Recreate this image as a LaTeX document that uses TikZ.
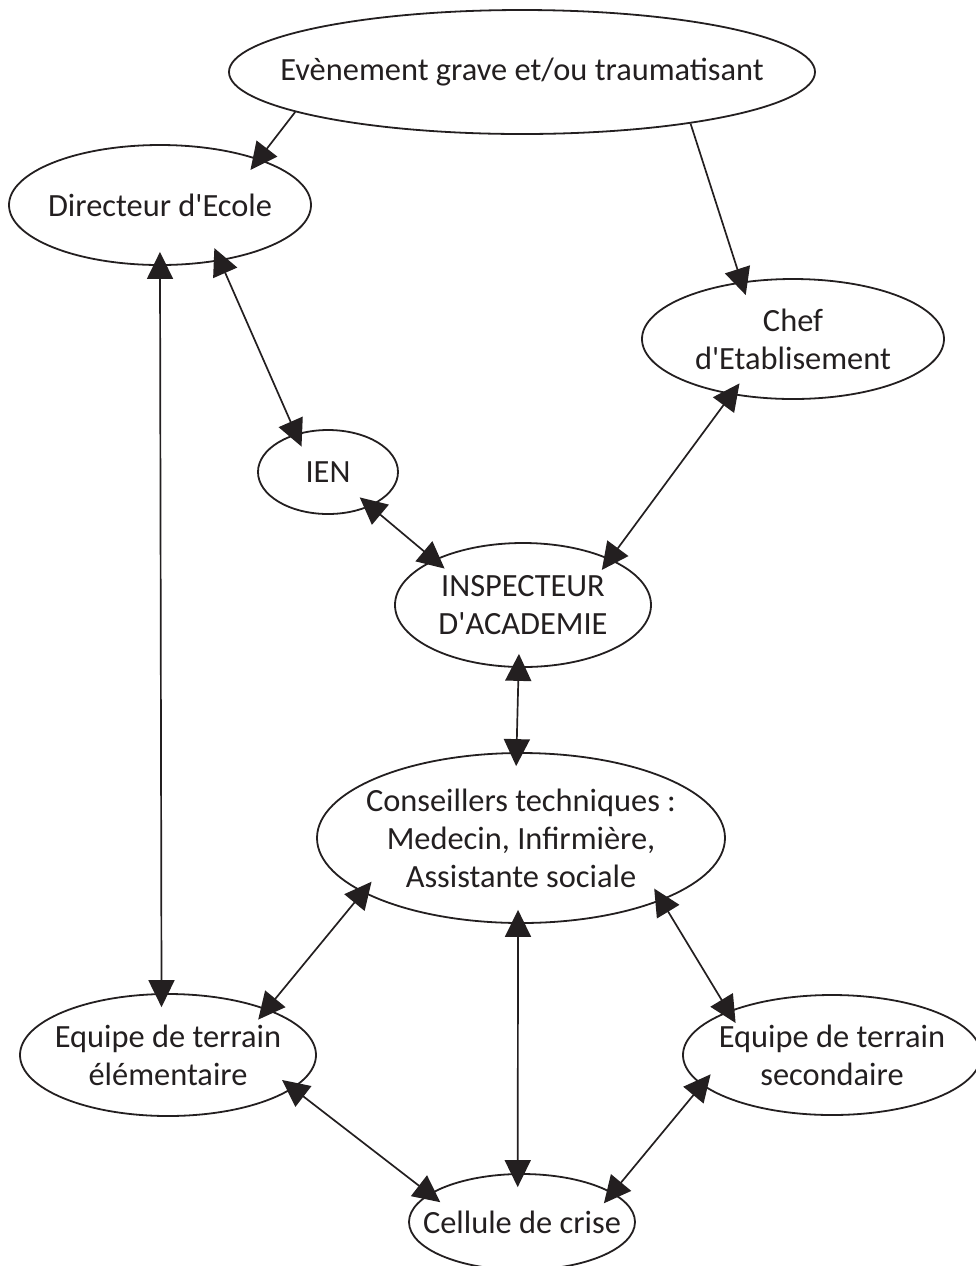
\documentclass[tikz,border=0pt]{standalone}
\usepackage{fontspec}
\setmainfont{Carlito}[Ligatures=TeXOff]
\usepackage{tikz}
\usepackage{xcolor}
\usetikzlibrary{shapes,arrows.meta,positioning,calc}

\definecolor{encre}{HTML}{231F20}

\begin{document}
\begin{tikzpicture}[x=0.5pt, y=-0.5pt, font=\fontsize{16.2}{19}\selectfont,
    bulle/.style={ellipse, draw=encre, line width=0.9pt, text=encre, align=center,
        inner xsep=-40pt, inner ysep=-20pt},
    fleche/.style={draw=encre, line width=0.85pt, -{Triangle[length=13.5pt,width=13pt]},
        shorten >=-7pt},
    lien/.style={draw=encre, line width=0.85pt,
        {Triangle[length=13.5pt,width=13pt]}-{Triangle[length=13.5pt,width=13pt]},
        shorten <=-7pt, shorten >=-7pt}]
    \useasboundingbox (0,0) rectangle (976,1266);
    % the ellipses
    \node[bulle, minimum width=293pt, minimum height=62pt] (ev) at (522,72) {Evènement grave et/ou traumatisant};
    \node[bulle, minimum width=151pt, minimum height=60pt] (dir) at (160,205) {Directeur d'Ecole};
    \node[bulle, minimum width=151pt, minimum height=60pt] (chef) at (793,339) {Chef\\d'Etablisement};
    \node[bulle, minimum width=70pt, minimum height=42pt] (ien) at (328,472) {IEN};
    \node[bulle, minimum width=128pt, minimum height=62pt] (ia) at (523,605) {INSPECTEUR\\D'ACADEMIE};
    \node[bulle, minimum width=204pt, minimum height=85pt] (ct) at (521,838) {Conseillers techniques :\\Medecin, Infirmière,\\Assistante sociale};
    \node[bulle, minimum width=148pt, minimum height=61pt] (ele) at (168,1055) {Equipe de terrain\\élémentaire};
    \node[bulle, minimum width=149pt, minimum height=60pt] (sec) at (832,1055) {Equipe de terrain\\secondaire};
    \node[bulle, minimum width=113pt, minimum height=48pt] (cel) at (522,1222) {Cellule de crise};
    % the event goes down to both heads
    \draw[fleche] (ev.190) -- (dir.25);
    \draw[fleche] (ev.343) -- (chef.132);
    % up to the inspection
    \draw[lien] (dir.317) -- (ien.130);
    \draw[lien] (ien.321) -- (ia.153);
    \draw[lien] (chef.222) -- (ia.28);
    \draw[lien] (ia.266) -- (ct.93);
    % long link on the left
    \draw[lien] (dir.270) -- (ele.96);
    % around the crisis cell
    \draw[lien] (ct.199) -- (ele.25);
    \draw[lien] (ct.268) -- (cel.95);
    \draw[lien] (ct.336) -- (sec.157);
    \draw[lien] (ele.345) -- (cel.163);
    \draw[lien] (sec.193) -- (cel.18);
\end{tikzpicture}
\end{document}
